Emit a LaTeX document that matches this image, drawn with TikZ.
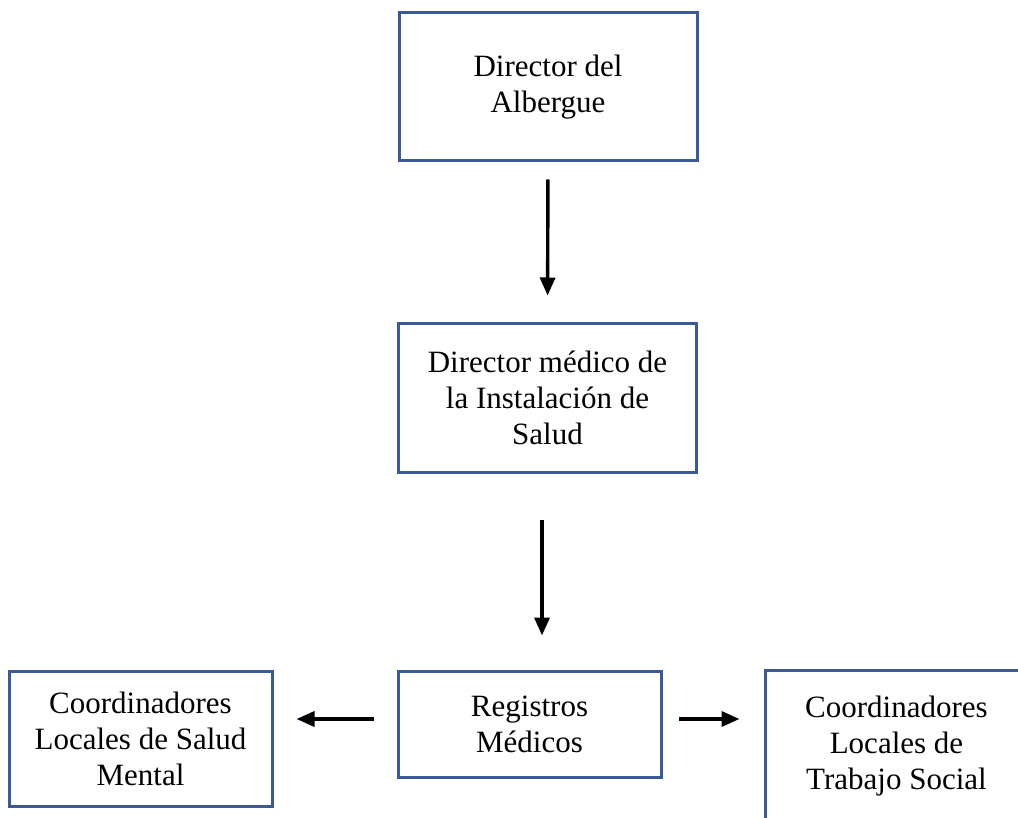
\documentclass[tikz,border=0pt]{standalone}
\usepackage{fontspec}
\setmainfont{Liberation Serif}
\usepackage{tikz}
\usepackage{xcolor}
\usetikzlibrary{positioning, arrows.meta}

\definecolor{boxblue}{RGB}{59,89,152}
\tikzset{
  box/.style={draw=boxblue, line width=3pt, align=center, minimum width=298pt,
    minimum height=148pt, font=\fontsize{31}{36}\selectfont},
  flow/.style={-{Triangle[length=18pt,width=15pt]}, line width=3.4pt},
}

\begin{document}
\begin{tikzpicture}[x=1pt, y=-1pt]
        \clip (0,0) rectangle (1018,818);
        \node[box] (alb) at (548,87) {Director del\\Albergue};
        \node[box] (med) at (547.5,398) {Director médico de\\la Instalación de\\Salud};
        \node[box, minimum width=263pt, minimum height=106pt] (reg) at (529.5,724) {Registros\\Médicos};
        \node[box, minimum width=263pt, minimum height=135pt] (salud) at (140.5,738.5) {Coordinadores\\Locales de Salud\\Mental};
        \node[box, minimum width=263pt, minimum height=0pt, inner sep=0pt, text height=119pt, text depth=45pt, anchor=north] (social) at (896.5,669) {Coordinadores\\Locales de\\Trabajo Social};

        \draw[flow, shorten <=17pt, shorten >=27pt] (alb.south) -- (med.north);
        \draw[flow, shorten <=46pt, shorten >=34pt] ([xshift=-5.5pt]med.south) -- ([xshift=-5.5pt]med.south |- reg.north);
        \draw[flow, shorten <=23pt, shorten >=23pt] ([yshift=5pt]reg.west) -- ([yshift=5pt]reg.west -| salud.east);
        \draw[flow, shorten <=16pt, shorten >=24pt] ([yshift=5pt]reg.east) -- ([yshift=5pt]reg.east -| social.west);
    \end{tikzpicture}
\end{document}
